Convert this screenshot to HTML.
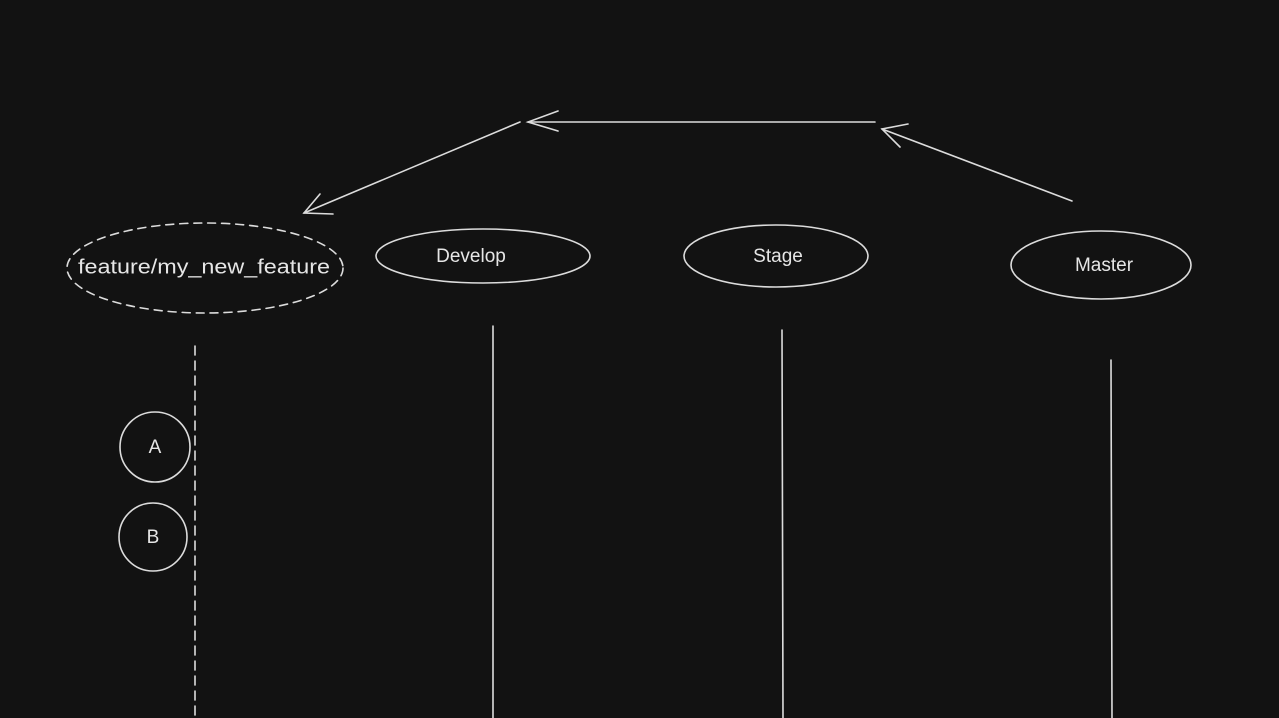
<!DOCTYPE html>
<html><head><meta charset="utf-8"><style>
html,body{margin:0;padding:0;background:#121212;width:1279px;height:718px;overflow:hidden}
svg{display:block}
text{font-family:"Liberation Sans",sans-serif;fill:#e6e6e6;text-anchor:middle;dominant-baseline:middle}
</style></head><body>
<svg width="1279" height="718" viewBox="0 0 1279 718" xmlns="http://www.w3.org/2000/svg">
<g fill="none" stroke="#dcdcdc" stroke-width="1.6" stroke-linecap="round">
<ellipse cx="205" cy="268" rx="138" ry="45" stroke-dasharray="8 6"/>
<ellipse cx="483" cy="256" rx="107" ry="27"/>
<ellipse cx="776" cy="256" rx="92" ry="31"/>
<ellipse cx="1101" cy="265" rx="90" ry="34"/>
<line x1="195" y1="346" x2="195" y2="718" stroke-dasharray="9 6"/>
<line x1="493" y1="326" x2="493" y2="718"/>
<line x1="782" y1="330" x2="783" y2="718"/>
<line x1="1111" y1="360" x2="1112" y2="718"/>
<circle cx="155" cy="447" r="35"/>
<circle cx="153" cy="537" r="34"/>
<line x1="1072" y1="201" x2="882" y2="129"/>
<polyline points="908,124 882,129 900,147"/>
<line x1="875" y1="122" x2="528" y2="122"/>
<polyline points="558,111 528,122 558,131"/>
<line x1="520" y1="122" x2="304" y2="213"/>
<polyline points="320,194 304,213 333,214"/>
</g>
<text x="204" y="268" font-size="20" textLength="252" lengthAdjust="spacingAndGlyphs">feature/my_new_feature</text>
<text x="471" y="257" font-size="19">Develop</text>
<text x="778" y="257" font-size="19">Stage</text>
<text x="1104" y="266" font-size="19">Master</text>
<text x="155" y="448" font-size="19">A</text>
<text x="153" y="538" font-size="19">B</text>
</svg>
</body></html>
